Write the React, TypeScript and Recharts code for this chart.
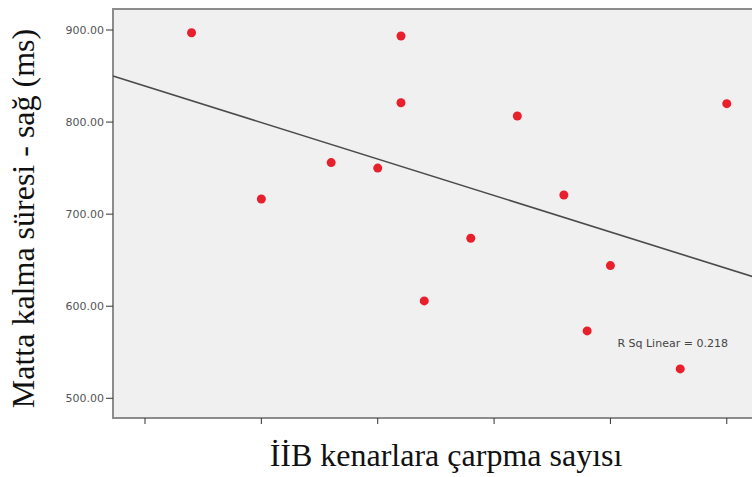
import {
  ScatterChart,
  Scatter,
  XAxis,
  YAxis,
  ReferenceArea,
  ReferenceLine,
  ReferenceDot,
  Label,
} from 'recharts';

// Number of edge hits vs. mat contact time (right), one point per subject
const hits = [2, 5, 8, 10, 11, 11, 12, 14, 16, 18, 19, 20, 23, 25];
const contactMs = [897, 716.5, 756, 750, 893.5, 821, 605.8, 673.8, 806.6, 720.8, 573.2, 644.1, 531.9, 820];

const xTicks = [0, 5, 10, 15, 20, 25];
const yTicks = [500, 600, 700, 800, 900];

const xDomain: [number, number] = [-1.375, 26.17];
const yDomain: [number, number] = [478.6, 922.8];

const points = hits.map((x, i) => ({ x, y: contactMs[i] }));

// ordinary least squares fit for the trend line
function linearFit(xs: number[], ys: number[]) {
  const n = xs.length;
  const mx = xs.reduce((a, b) => a + b, 0) / n;
  const my = ys.reduce((a, b) => a + b, 0) / n;
  let sxy = 0;
  let sxx = 0;
  let syy = 0;
  xs.forEach((x, i) => {
    sxy += (x - mx) * (ys[i] - my);
    sxx += (x - mx) ** 2;
    syy += (ys[i] - my) ** 2;
  });
  const slope = sxy / sxx;
  return { slope, intercept: my - slope * mx, r2: (sxy * sxy) / (sxx * syy) };
}

const fit = linearFit(hits, contactMs);
const fitAt = (x: number) => fit.intercept + fit.slope * x;

const serif = '"Liberation Serif", "Times New Roman", serif';
const sans = '"DejaVu Sans", Arial, sans-serif';

export default function App() {
  return (
    <div style={{ width: 752, height: 477, overflow: 'hidden', background: '#fff' }}>
      <style>{'body{margin:0}'}</style>
      <ScatterChart width={754} height={477} margin={{ top: 9, right: 0, bottom: 0, left: 0 }}>
        <XAxis
          type="number"
          dataKey="x"
          domain={xDomain}
          allowDataOverflow
          ticks={xTicks}
          tickFormatter={() => ''}
          tickSize={6}
          tickLine={{ stroke: '#333' }}
          axisLine={false}
          height={59}
        >
          <Label
            content={() => (
              <text x={446} y={466} textAnchor="middle" fontFamily={serif} fontSize={32} fill="#111">
                İİB kenarlara çarpma sayısı
              </text>
            )}
          />
        </XAxis>
        <YAxis
          type="number"
          dataKey="y"
          domain={yDomain}
          allowDataOverflow
          ticks={yTicks}
          tickFormatter={(v: number) => v.toFixed(2)}
          tick={{ fontFamily: sans, fontSize: 11, fill: '#555' }}
          tickSize={7}
          tickMargin={2}
          tickLine={{ stroke: '#333' }}
          axisLine={false}
          width={113}
        >
          <Label
            content={() => (
              <text
                x={0}
                y={0}
                transform="translate(34 218.5) rotate(-90)"
                textAnchor="middle"
                fontFamily={serif}
                fontSize={32}
                fill="#111"
              >
                Matta kalma süresi - sağ (ms)
              </text>
            )}
          />
        </YAxis>
        <ReferenceArea
          x1={xDomain[0]}
          x2={xDomain[1]}
          y1={yDomain[0]}
          y2={yDomain[1]}
          fill="#f0f0f0"
          fillOpacity={1}
          stroke="#8c8c8c"
          strokeWidth={2}
        />
        <ReferenceLine
          segment={[
            { x: xDomain[0], y: fitAt(xDomain[0]) },
            { x: xDomain[1], y: fitAt(xDomain[1]) },
          ]}
          stroke="#4a4a4a"
          strokeWidth={1.6}
        />
        <ReferenceDot
          x={20.3}
          y={560}
          r={0}
          stroke="none"
          label={(props: any) => (
            <text
              x={props.viewBox.x}
              y={props.viewBox.y + 4}
              fontFamily={sans}
              fontSize={11}
              fill="#444"
            >
              {`R Sq Linear = ${fit.r2.toFixed(3)}`}
            </text>
          )}
        />
        <Scatter
          data={points}
          fill="#e8202c"
          isAnimationActive={false}
          shape={(p: any) => <circle cx={p.cx} cy={p.cy} r={4.5} fill="#e8202c" />}
        />
      </ScatterChart>
    </div>
  );
}
